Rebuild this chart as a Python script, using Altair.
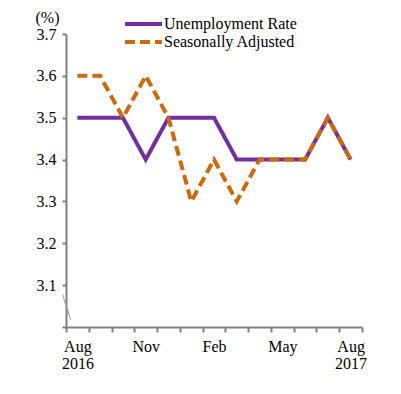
import altair as alt
import pandas as pd

months = ["Aug 2016", "Sep 2016", "Oct 2016", "Nov 2016", "Dec 2016", "Jan 2017",
          "Feb 2017", "Mar 2017", "Apr 2017", "May 2017", "Jun 2017", "Jul 2017", "Aug 2017"]
unemployment = [3.5, 3.5, 3.5, 3.4, 3.5, 3.5, 3.5, 3.4, 3.4, 3.4, 3.4, 3.5, 3.4]
seasonal = [3.6, 3.6, 3.5, 3.6, 3.5, 3.3, 3.4, 3.3, 3.4, 3.4, 3.4, 3.5, 3.4]
series_names = ["Unemployment Rate", "Seasonally Adjusted"]
series_colors = ["#7030A0", "#CC6A0C"]
y_ticks = [3.0, 3.1, 3.2, 3.3, 3.4, 3.5, 3.6, 3.7]
x_labels = {"Aug 2016": ["Aug", "2016"], "Nov 2016": ["Nov"], "Feb 2017": ["Feb"],
            "May 2017": ["May"], "Aug 2017": ["Aug", "2017"]}
break_marks = [(3.078, 3.029), (3.064, 3.017)]

rows = []
for m, u, s in zip(months, unemployment, seasonal):
    rows.append({"month": m, "series": series_names[0], "value": u})
    rows.append({"month": m, "series": series_names[1], "value": s})
df = pd.DataFrame(rows)

def lab_expr():
    parts = []
    for k, v in x_labels.items():
        arr = "[" + ",".join("'" + t + "'" for t in v) + "]"
        parts.append(f"datum.value == '{k}' ? {arr} : ")
    return "".join(parts) + "''"

FONT = "Liberation Serif"
FS = 16

x_enc = alt.X("month:O", sort=months,
              scale=alt.Scale(type="band", paddingInner=0, paddingOuter=0),
              axis=alt.Axis(title=None, labelAngle=0, tickBand="extent", labelExpr=lab_expr(),
                            labelFont=FONT, labelFontSize=FS, labelColor="black",
                            labelPadding=6, tickSize=5, labelLineHeight=17))
y_enc = alt.Y("value:Q", scale=alt.Scale(domain=[3.0, 3.7], nice=False, zero=False),
              axis=alt.Axis(values=y_ticks, format=".1f",
                            labelExpr="datum.value < 3.05 ? '' : datum.label",
                            title="(%)", titleAngle=0, titleX=-19, titleY=-17,
                            titleAlign="center", titleBaseline="middle",
                            titleFont=FONT, titleFontSize=FS, titleFontWeight="normal",
                            labelFont=FONT, labelFontSize=FS, labelColor="black",
                            labelPadding=6, tickSize=4))

color_enc = alt.Color("series:N", scale=alt.Scale(domain=series_names, range=series_colors),
                      legend=alt.Legend(orient="none", legendX=57, legendY=-18.5, title=None,
                                        symbolType="stroke", symbolSize=1369,
                                        symbolStrokeWidth=4, labelFont=FONT,
                                        labelFontSize=FS, labelOffset=0, labelLimit=300,
                                        clipHeight=17, rowPadding=1, padding=0,
                                        labelColor="black"))
dash_enc = alt.StrokeDash("series:N",
                          scale=alt.Scale(domain=series_names, range=[[1, 0], [10, 5]]),
                          legend=None)

base = alt.Chart(df).mark_line(strokeWidth=4, strokeCap="butt").encode(
    x=x_enc, y=y_enc, color=color_enc, strokeDash=dash_enc)

l1 = base.transform_filter(alt.datum.series == series_names[0])
l2 = base.transform_filter(alt.datum.series == series_names[1])

bdf = pd.DataFrame({"y": [b[0] for b in break_marks], "y2": [b[1] for b in break_marks]})
br1 = alt.Chart(bdf.iloc[[0]]).mark_rule(color="#A0A0A0", strokeWidth=1).encode(
    y="y:Q", y2="y2:Q", x=alt.value(-3.3), x2=alt.value(2.3))
br2 = alt.Chart(bdf.iloc[[1]]).mark_rule(color="#A0A0A0", strokeWidth=1).encode(
    y="y:Q", y2="y2:Q", x=alt.value(-1), x2=alt.value(4.7))

chart = alt.layer(l1, l2, br1, br2).properties(
    width=296, height=293,
    autosize=alt.AutoSizeParams(type="none"),
    padding={"left": 58, "top": 26, "right": 30, "bottom": 50},
).configure_view(stroke=None).configure_axis(
    grid=False, domainColor="#808080", domainWidth=2, tickColor="#808080", tickWidth=2
)

chart.save("out.html", embed_options={"renderer": "svg", "actions": False})
